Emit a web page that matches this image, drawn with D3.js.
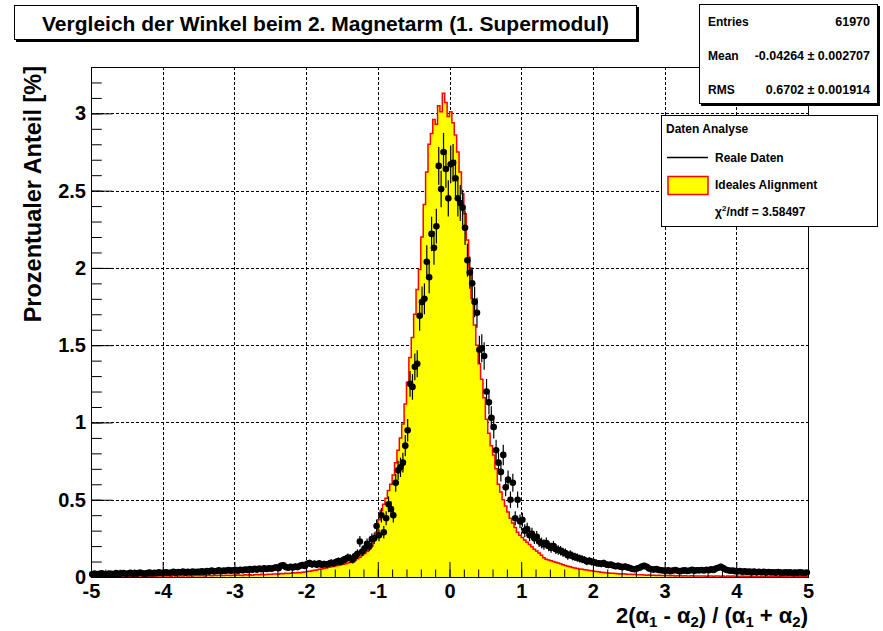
<!DOCTYPE html>
<html><head><meta charset="utf-8">
<script src="https://cdn.jsdelivr.net/npm/d3@7"></script>
<style>
body{margin:0;background:#fff}
svg{display:block}
text{font-family:"Liberation Sans",Arial,Helvetica,sans-serif;font-weight:bold;fill:#000}
</style>
</head><body>
<svg id="c" width="883" height="631"></svg>
<script>
// ---------------- data ----------------
const xDomain = [-5, 5];
const yDomain = [0, 3.3];
const xMajorTicks = [-5, -4, -3, -2, -1, 0, 1, 2, 3, 4, 5];
const xTickLabels = ["-5", "-4", "-3", "-2", "-1", "0", "1", "2", "3", "4", "5"];
const yMajorTicks = [0, 0.5, 1, 1.5, 2, 2.5, 3];
const yTickLabels = ["0", "0.5", "1", "1.5", "2", "2.5", "3"];

// "Ideales Alignment" histogram, 300 bins over [-5,5], percent per bin
const idealValues = [
0.004,0.006,0.003,0.005,0.007,0.004,0.005,0.003,0.006,0.004,0.005,0.007,0.004,0.006,0.005,
0.006,0.004,0.007,0.005,0.006,0.008,0.005,0.006,0.004,0.007,0.006,0.005,0.008,0.006,0.007,
0.007,0.006,0.008,0.005,0.009,0.007,0.006,0.008,0.007,0.009,0.006,0.008,0.007,0.009,0.008,
0.008,0.010,0.007,0.009,0.011,0.008,0.010,0.009,0.012,0.010,0.009,0.011,0.012,0.010,0.011,
0.011,0.013,0.012,0.010,0.014,0.013,0.015,0.012,0.014,0.016,0.015,0.017,0.014,0.016,0.018,
0.017,0.019,0.020,0.018,0.022,0.021,0.024,0.023,0.025,0.027,0.026,0.029,0.028,0.031,0.033,
0.036,0.038,0.041,0.044,0.046,0.050,0.052,0.056,0.059,0.063,0.066,0.068,0.072,0.075,0.079,
0.083,0.086,0.090,0.094,0.100,0.108,0.118,0.128,0.140,0.152,0.165,0.180,0.200,0.235,0.290,
0.37,0.43,0.47,0.51,0.56,0.60,0.66,0.74,0.82,0.90,0.99,1.12,1.26,1.42,1.55,
1.70,1.86,1.99,2.20,2.41,2.62,2.80,2.87,2.96,2.93,3.05,3.01,3.13,3.07,2.98,
3.01,2.94,2.86,2.75,2.62,2.48,2.35,2.18,2.00,1.80,1.63,1.50,1.38,1.28,1.16,
1.02,0.93,0.85,0.79,0.70,0.60,0.55,0.50,0.46,0.42,0.38,0.35,0.32,0.29,0.27,
0.255,0.240,0.225,0.210,0.195,0.180,0.168,0.155,0.140,0.125,0.115,0.110,0.105,0.100,0.095,
0.090,0.085,0.080,0.075,0.070,0.066,0.062,0.058,0.055,0.052,0.050,0.047,0.045,0.042,0.040,
0.038,0.036,0.034,0.031,0.029,0.028,0.026,0.025,0.024,0.022,0.021,0.020,0.021,0.019,0.018,
0.017,0.016,0.017,0.015,0.014,0.015,0.013,0.012,0.013,0.011,0.012,0.010,0.011,0.009,0.010,
0.009,0.010,0.008,0.009,0.007,0.008,0.009,0.007,0.008,0.006,0.007,0.008,0.006,0.007,0.006,
0.007,0.006,0.005,0.007,0.006,0.005,0.006,0.007,0.005,0.006,0.004,0.006,0.005,0.006,0.005,
0.005,0.004,0.006,0.005,0.004,0.005,0.006,0.004,0.005,0.003,0.005,0.004,0.006,0.004,0.005,
0.004,0.005,0.003,0.004,0.005,0.003,0.004,0.006,0.004,0.003,0.005,0.004,0.003,0.005,0.004
];

// "Reale Daten" points, 300 bins over [-5,5], percent per bin
const realValues = [
0.018,0.022,0.016,0.020,0.024,0.019,0.017,0.023,0.021,0.018,0.025,0.020,0.022,0.026,0.021,
0.023,0.027,0.021,0.025,0.022,0.028,0.024,0.020,0.026,0.029,0.023,0.027,0.025,0.030,0.026,
0.027,0.031,0.026,0.029,0.033,0.027,0.032,0.030,0.035,0.028,0.033,0.031,0.036,0.032,0.034,
0.033,0.037,0.032,0.038,0.035,0.041,0.036,0.039,0.043,0.037,0.042,0.040,0.045,0.041,0.043,
0.045,0.041,0.047,0.043,0.049,0.046,0.051,0.047,0.053,0.048,0.054,0.050,0.056,0.052,0.057,
0.054,0.058,0.062,0.057,0.072,0.076,0.064,0.060,0.066,0.062,0.068,0.064,0.072,0.078,0.071,
0.085,0.090,0.082,0.086,0.080,0.088,0.079,0.084,0.081,0.086,0.092,0.089,0.097,0.103,0.099,
0.110,0.116,0.126,0.121,0.112,0.135,0.150,0.230,0.165,0.185,0.215,0.200,0.245,0.250,0.330,
0.27,0.40,0.29,0.38,0.47,0.44,0.40,0.61,0.69,0.71,0.74,0.85,0.95,1.25,1.23,
1.36,1.38,1.69,1.78,1.80,2.04,1.94,2.22,2.13,2.27,2.66,2.51,2.75,2.64,2.45,
2.67,2.68,2.58,2.45,2.42,2.39,2.26,2.05,1.97,1.90,1.78,1.71,1.47,1.48,1.43,
1.20,1.13,1.03,0.97,0.82,0.74,0.68,0.79,0.58,0.63,0.50,0.61,0.38,0.50,0.36,
0.37,0.30,0.31,0.27,0.28,0.25,0.26,0.23,0.22,0.21,0.22,0.20,0.19,0.20,0.18,
0.175,0.170,0.160,0.155,0.140,0.145,0.135,0.130,0.125,0.120,0.115,0.110,0.100,0.105,0.098,
0.095,0.090,0.088,0.085,0.090,0.082,0.078,0.080,0.074,0.070,0.072,0.067,0.064,0.068,0.062,
0.058,0.052,0.050,0.055,0.060,0.068,0.072,0.066,0.055,0.050,0.048,0.052,0.046,0.044,0.042,
0.040,0.043,0.038,0.042,0.045,0.040,0.037,0.041,0.044,0.039,0.042,0.046,0.041,0.044,0.043,
0.045,0.042,0.047,0.044,0.050,0.046,0.055,0.060,0.066,0.058,0.048,0.044,0.040,0.042,0.038,
0.036,0.039,0.034,0.037,0.033,0.036,0.032,0.035,0.030,0.034,0.031,0.033,0.029,0.032,0.030,
0.031,0.028,0.032,0.029,0.027,0.030,0.028,0.031,0.026,0.029,0.027,0.030,0.028,0.026,0.029
];
// estimated number of entries of the real data (sets the Poisson error bars)
const realEntries = 18000;

const titleText = "Vergleich der Winkel beim 2. Magnetarm (1. Supermodul)";
const statsRows = [["Entries", "61970"], ["Mean", "-0.04264 \u00b1 0.002707"], ["RMS", "0.6702 \u00b1 0.001914"]];
const legendHeader = "Daten Analyse";
const legendReal = "Reale Daten";
const legendIdeal = "Ideales Alignment";
const chi2Value = "3.58497";

// ---------------- drawing ----------------
const svg = d3.select("#c");
const M = {l: 91, r: 808, t: 67, b: 577};
const x = d3.scaleLinear().domain(xDomain).range([M.l, M.r]);
const y = d3.scaleLinear().domain(yDomain).range([M.b, M.t]);
const binW = (xDomain[1] - xDomain[0]) / idealValues.length;

// grid
const grid = svg.append("g").attr("stroke", "#000").attr("stroke-width", 1).attr("stroke-dasharray", "3,2");
grid.selectAll("line.gx").data(xMajorTicks.filter(v => v > xDomain[0] && v < xDomain[1])).join("line")
  .attr("x1", d => Math.round(x(d)) + 0.5).attr("x2", d => Math.round(x(d)) + 0.5)
  .attr("y1", M.t).attr("y2", M.b);
grid.selectAll("line.gy").data(yMajorTicks.filter(v => v > yDomain[0])).join("line")
  .attr("y1", d => Math.round(y(d)) + 0.5).attr("y2", d => Math.round(y(d)) + 0.5)
  .attr("x1", M.l).attr("x2", M.r);

// ideal histogram
const steps = [];
idealValues.forEach((v, i) => { const a = xDomain[0] + i * binW; steps.push([a, v], [a + binW, v]); });
svg.append("path")
  .attr("d", d3.area().x(d => x(d[0])).y0(y(0)).y1(d => y(d[1]))(steps))
  .attr("fill", "#ffff00");
svg.append("path")
  .attr("d", d3.line().x(d => x(d[0])).y(d => y(d[1]))([[xDomain[0], 0], ...steps, [xDomain[1], 0]]))
  .attr("fill", "none").attr("stroke", "#ff0000").attr("stroke-width", 1.5);

// real data points
const pts = realValues.map((v, i) => ({cx: xDomain[0] + (i + 0.5) * binW, v, e: Math.sqrt(v * 100 / realEntries)}));
const pg = svg.append("g");
pg.selectAll("line.ey").data(pts).join("line").attr("class", "ey")
  .attr("x1", d => x(d.cx)).attr("x2", d => x(d.cx))
  .attr("y1", d => y(Math.max(0, d.v - d.e))).attr("y2", d => y(d.v + d.e))
  .attr("stroke", "#000").attr("stroke-width", 1.2);
pg.selectAll("line.ex").data(pts).join("line").attr("class", "ex")
  .attr("x1", d => x(d.cx - binW / 2)).attr("x2", d => x(d.cx + binW / 2))
  .attr("y1", d => y(d.v)).attr("y2", d => y(d.v))
  .attr("stroke", "#000").attr("stroke-width", 1.2);
pg.selectAll("circle").data(pts).join("circle")
  .attr("cx", d => x(d.cx)).attr("cy", d => y(d.v)).attr("r", 3.3).attr("fill", "#000");

// axes
function styleAxis(g, size) {
  g.select(".domain").remove();
  g.attr("font-family", null).attr("font-size", size);
  g.selectAll("line").attr("stroke", "#000");
}
const xMinor = d3.range(xDomain[0], xDomain[1] + 1e-9, 0.2);
const yMinor = d3.range(0, yDomain[1] + 1e-9, 0.1);
svg.append("g").attr("transform", `translate(0,${M.b})`)
  .call(d3.axisBottom(x).tickValues(xMinor).tickSize(-7.5).tickFormat(""))
  .call(g => styleAxis(g, 20));
svg.append("g").attr("transform", `translate(0,${M.b})`)
  .call(d3.axisBottom(x).tickValues(xMajorTicks).tickSize(-15).tickPadding(7)
    .tickFormat((d, i) => xTickLabels[i]))
  .call(g => styleAxis(g, 20));
svg.append("g").attr("transform", `translate(${M.l},0)`)
  .call(d3.axisLeft(y).tickValues(yMinor).tickSize(-10.75).tickFormat(""))
  .call(g => styleAxis(g, 20));
svg.append("g").attr("transform", `translate(${M.l},0)`)
  .call(d3.axisLeft(y).tickValues(yMajorTicks).tickSize(-21.5).tickPadding(5)
    .tickFormat((d, i) => yTickLabels[i]))
  .call(g => styleAxis(g, 20));

// frame
svg.append("rect").attr("x", M.l + 0.5).attr("y", M.t + 0.5).attr("width", M.r - M.l).attr("height", M.b - M.t)
  .attr("fill", "none").attr("stroke", "#000").attr("stroke-width", 1);

// axis titles
svg.append("text").attr("transform", `translate(41,${M.t - 1}) rotate(-90)`)
  .attr("text-anchor", "end").attr("font-size", 23.5).text("Prozentualer Anteil [%]");
const xt = svg.append("text").attr("x", M.r).attr("y", 623).attr("text-anchor", "end").attr("font-size", 22);
[["2(\u03b1", 0], ["1", 1], [" - \u03b1", 0], ["2", 1], [") / (\u03b1", 0], ["1", 1], [" + \u03b1", 0], ["2", 1], [")", 0]]
  .forEach(([t, sub], i, arr) => {
    const prevSub = i > 0 ? arr[i - 1][1] : 0;
    xt.append("tspan").attr("dy", sub ? 4 : (prevSub ? -4 : 0)).attr("font-size", sub ? 15 : 22).text(t);
  });

// title box
svg.append("rect").attr("x", 16).attr("y", 7).attr("width", 623).attr("height", 35).attr("fill", "#000");
svg.append("rect").attr("x", 14.5).attr("y", 5.5).attr("width", 622).attr("height", 34)
  .attr("fill", "#fff").attr("stroke", "#000");
svg.append("text").attr("x", 325.5).attr("y", 23).attr("dominant-baseline", "central")
  .attr("text-anchor", "middle").attr("font-size", 21).text(titleText);

// stats box
svg.append("rect").attr("x", 701).attr("y", 6).attr("width", 179).attr("height", 100).attr("fill", "#000");
svg.append("rect").attr("x", 699.5).attr("y", 4.5).attr("width", 178).attr("height", 99)
  .attr("fill", "#fff").attr("stroke", "#000");
statsRows.forEach((r, i) => {
  const yy = 22 + i * 34;
  svg.append("text").attr("x", 708).attr("y", yy).attr("dominant-baseline", "central").attr("font-size", 12).text(r[0]);
  svg.append("text").attr("x", 870).attr("y", yy).attr("dominant-baseline", "central").attr("text-anchor", "end")
    .attr("font-size", 12.5).text(r[1]);
});

// legend
svg.append("rect").attr("x", 661.5).attr("y", 115.5).attr("width", 216).attr("height", 111)
  .attr("fill", "#fff").attr("stroke", "#000");
svg.append("text").attr("x", 666).attr("y", 129).attr("dominant-baseline", "central").attr("font-size", 12).text(legendHeader);
svg.append("line").attr("x1", 667).attr("x2", 708).attr("y1", 157.5).attr("y2", 157.5).attr("stroke", "#000").attr("stroke-width", 1.5);
svg.append("text").attr("x", 715).attr("y", 158).attr("dominant-baseline", "central").attr("font-size", 12).text(legendReal);
svg.append("rect").attr("x", 668).attr("y", 176.5).attr("width", 40).attr("height", 18)
  .attr("fill", "#ffff00").attr("stroke", "#ff0000").attr("stroke-width", 1.5);
svg.append("text").attr("x", 715).attr("y", 184.5).attr("dominant-baseline", "central").attr("font-size", 12).text(legendIdeal);
const ct = svg.append("text").attr("x", 715).attr("y", 212).attr("dominant-baseline", "central").attr("font-size", 12);
ct.append("tspan").text("\u03c7");
ct.append("tspan").attr("dy", -4).attr("font-size", 8).text("2");
ct.append("tspan").attr("dy", 4).text("/ndf = " + chi2Value);
</script>
</body></html>
